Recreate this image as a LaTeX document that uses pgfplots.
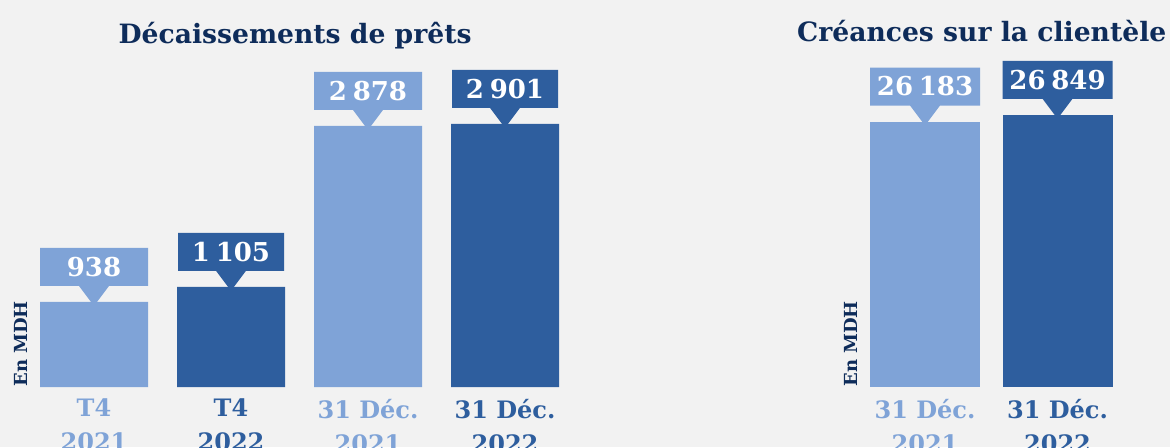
\documentclass[border=0pt]{standalone}
\usepackage{pgfplots}
\pgfplotsset{compat=1.18}
\usepackage{fontspec}
\setmainfont{DejaVu Serif}
\usetikzlibrary{shapes.callouts}

\definecolor{bgc}{HTML}{F2F2F2}
\definecolor{lightb}{HTML}{7FA3D7}
\definecolor{darkb}{HTML}{2E5E9E}
\definecolor{navy}{HTML}{0E2C5A}

\pgfplotsset{
  panel/.style={
    anchor=south west,
    axis line style={draw=none},
    tick style={draw=none},
    ytick=\empty,
    xtick=data,
    clip=false,
    axis background/.style={fill=none},
    ybar, bar shift=0pt,
    xticklabel style={align=center, font=\bfseries\fontsize{12}{17}\selectfont, inner sep=0pt, yshift=-1.5pt},
    title style={font=\bfseries\fontsize{13.3}{16}\selectfont, color=navy, anchor=base, inner sep=0pt},
    ylabel={En MDH},
    ylabel style={font=\bfseries\fontsize{9}{10}\selectfont, color=navy, anchor=west, inner sep=0pt, rotate=0},
    nodes near coords,
    /pgf/number format/.cd, 1000 sep={\hspace{0.22em}}, assume math mode=true,
    /pgfplots/.cd,
    every node near coord/.append style={
      rectangle callout, text=white, font=\bfseries\fontsize{13}{15}\selectfont,
      inner sep=0pt, outer sep=0pt, minimum height=19pt,
      anchor=south, yshift=8pt,
      callout relative pointer={(0pt,-10pt)}, callout pointer width=15pt},
  },
}

\begin{document}
\begin{tikzpicture}
\path[use as bounding box, clip] (0,0) rectangle (585pt,223.5pt);
\fill[bgc] (0,0) rectangle (585pt,223.5pt);

% Décaissements de prêts
\begin{axis}[panel,
  at={(12.75pt,30pt)},
  x=68.5pt, y=0.04535pt,
  xmin=-0.5, xmax=3.5, ymin=0, ymax=3600,
  xtick={0,1,2,3},
  xticklabels={
    {\textcolor{lightb}{T4}\\\textcolor{lightb}{2021}},
    {\textcolor{darkb}{T4}\\\textcolor{darkb}{2022}},
    {\textcolor{lightb}{31 Déc.}\\\textcolor{lightb}{2021}},
    {\textcolor{darkb}{31 Déc.}\\\textcolor{darkb}{2022}}},
  title={Décaissements de prêts},
  title style={at={(axis description cs:0.492,1)}, yshift=2.25pt},
  ylabel style={at={(axis description cs:-0.008,0)}},
  bar width=54pt,
]
\addplot[fill=lightb, draw=none, every node near coord/.append style={fill=lightb, minimum width=54pt}]
  coordinates {(0,938) (2,2878)};
\addplot[fill=darkb, draw=none, every node near coord/.append style={fill=darkb, minimum width=53pt}]
  coordinates {(1,1105) (3,2901)};
\end{axis}

% Créances sur la clientèle
\begin{axis}[panel,
  at={(429.375pt,30pt)},
  x=66.25pt, y=0.00506pt,
  xmin=-0.5, xmax=1.5, ymin=0, ymax=32000,
  xtick={0,1},
  xticklabels={
    {\textcolor{lightb}{31 Déc.}\\\textcolor{lightb}{2021}},
    {\textcolor{darkb}{31 Déc.}\\\textcolor{darkb}{2022}}},
  title={Créances sur la clientèle},
  title style={at={(axis description cs:0.464,1)}, yshift=4.6pt},
  ylabel style={at={(axis description cs:-0.029,0)}},
  bar width=55pt,
]
\addplot[fill=lightb, draw=none, every node near coord/.append style={fill=lightb, minimum width=55pt}]
  coordinates {(0,26183)};
\addplot[fill=darkb, draw=none, every node near coord/.append style={fill=darkb, minimum width=55pt}]
  coordinates {(1,26849)};
\end{axis}
\end{tikzpicture}
\end{document}
